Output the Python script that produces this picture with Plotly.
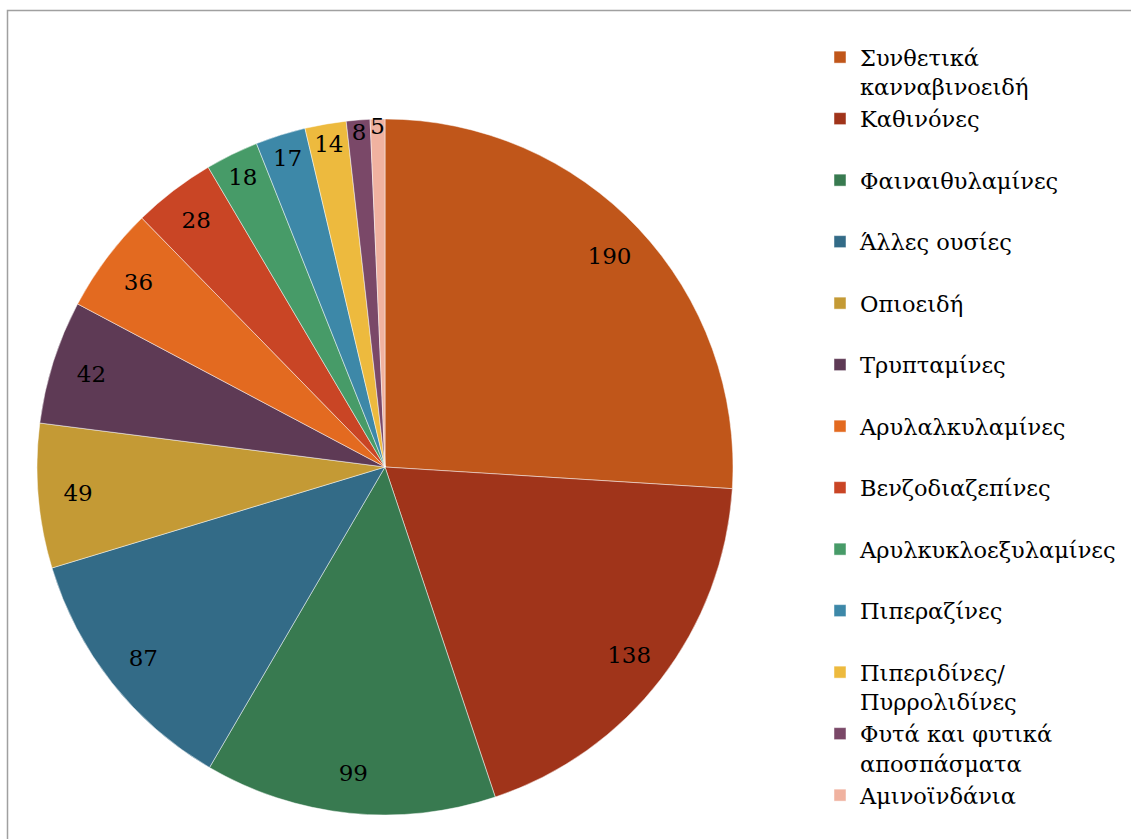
import plotly.graph_objects as go

labels = [
    "Συνθετικά<br>κανναβινοειδή",
    "Καθινόνες<br> ",
    "Φαιναιθυλαμίνες<br> ",
    "Άλλες ουσίες<br> ",
    "Οπιοειδή<br> ",
    "Τρυπταμίνες<br> ",
    "Αρυλαλκυλαμίνες<br> ",
    "Βενζοδιαζεπίνες<br> ",
    "Αρυλκυκλοεξυλαμίνες<br> ",
    "Πιπεραζίνες<br> ",
    "Πιπεριδίνες/<br>Πυρρολιδίνες",
    "Φυτά και φυτικά<br>αποσπάσματα",
    "Αμινοϊνδάνια",
]
values = [190, 138, 99, 87, 49, 42, 36, 28, 18, 17, 14, 8, 5]
colors = [
    "#C0561A", "#A0341A", "#387A50", "#336B87", "#C49A35", "#5E3A55", "#E36A20",
    "#C94525", "#479B68", "#3D88A8", "#EDBA3E", "#7A4868", "#F0B2A0",
]

W, H = 1131, 839
dom_x = [37 / W, 733 / W]
dom_y = [24 / H, 720 / H]
serif = "DejaVu Serif"

fig = go.Figure()
fig.add_trace(go.Pie(
    labels=labels, values=values, sort=False, direction="clockwise", rotation=0,
    marker=dict(colors=colors, line=dict(color="rgba(255,255,255,0.6)", width=0.8)),
    textinfo="none", domain=dict(x=dom_x, y=dom_y), hoverinfo="label+value",
))
fig.add_trace(go.Pie(
    labels=labels, values=values, sort=False, direction="clockwise", rotation=0,
    hole=0.77, showlegend=False, hoverinfo="skip",
    marker=dict(colors=["rgba(0,0,0,0)"] * len(values), line=dict(width=0)),
    textinfo="value", textposition="inside", insidetextorientation="horizontal",
    insidetextfont=dict(family=serif, size=23, color="black"),
    domain=dict(x=dom_x, y=dom_y),
))

fig.add_shape(type="rect", xref="paper", yref="paper",
              x0=7.5 / W, x1=1.05, y0=-0.05, y1=1 - 10.5 / H,
              line=dict(color="#A0A0A0", width=1.5), fillcolor="rgba(0,0,0,0)")

fig.update_layout(
    width=W, height=H,
    margin=dict(l=0, r=0, t=0, b=0),
    paper_bgcolor="white", plot_bgcolor="white",
    uniformtext=dict(minsize=23, mode="show"),
    legend=dict(
        x=820 / W, y=1 - 36 / H, xanchor="left", yanchor="top",
        font=dict(family=serif, size=22.5, color="black"),
        valign="top", traceorder="normal", bgcolor="rgba(0,0,0,0)",
    ),
)
fig.write_html("out.html")
